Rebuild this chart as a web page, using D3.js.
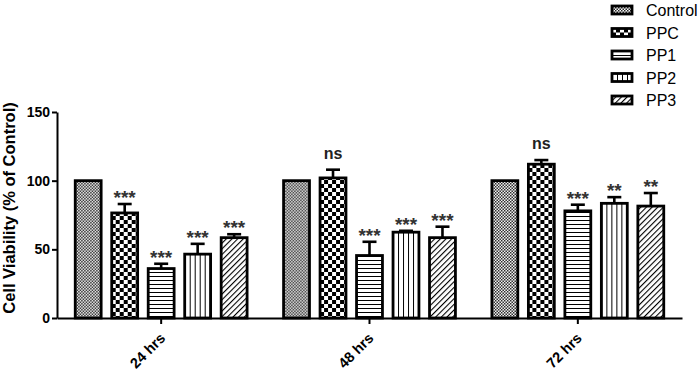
<!DOCTYPE html>
<html>
<head>
<meta charset="utf-8">
<script src="https://cdn.jsdelivr.net/npm/d3@7"></script>
<style>
  body { margin: 0; background: #fff; }
  svg { display: block; font-family: "Liberation Sans", Arial, sans-serif; }
</style>
</head>
<body>
<div id="chart"></div>
<script>
// cell viability bars, grouped by time point

const groups = ["24 hrs", "48 hrs", "72 hrs"];
const series = ["Control", "PPC", "PP1", "PP2", "PP3"];

// mean values per series, one per time point
const controlVals = [100, 100, 100];
const ppcVals = [76.5, 102, 112];
const pp1Vals = [36, 45.5, 78];
const pp2Vals = [46.5, 62.5, 83.5];
const pp3Vals = [58.5, 58.5, 81.5];

// error (upper half only)
const controlErr = [0, 0, 0];
const ppcErr = [6.5, 6, 3];
const pp1Err = [3.5, 10, 4.5];
const pp2Err = [7.5, 1, 4.5];
const pp3Err = [2.5, 8, 9.5];

// significance marks
const controlSig = ["", "", ""];
const ppcSig = ["***", "ns", "ns"];
const pp1Sig = ["***", "***", "***"];
const pp2Sig = ["***", "***", "**"];
const pp3Sig = ["***", "***", "**"];

const yTicks = [0, 50, 100, 150];

const vals = [controlVals, ppcVals, pp1Vals, pp2Vals, pp3Vals];
const errs = [controlErr, ppcErr, pp1Err, pp2Err, pp3Err];
const sigs = [controlSig, ppcSig, pp1Sig, pp2Sig, pp3Sig];

let rows = [];
groups.forEach((g, gi) => {
    series.forEach((s, si) => {
        rows.push({group: g, series: s, value: vals[si][gi], err: errs[si][gi], sig: sigs[si][gi]});
    });
});

const width = 699, height = 374;
const margin = {top: 112, right: 17, bottom: 56, left: 57};

const svg = d3.select("#chart").append("svg")
    .attr("width", width)
    .attr("height", height);

// patterns
const defs = svg.append("defs");

let p = defs.append("pattern").attr("id", "pat-Control")
    .attr("patternUnits", "userSpaceOnUse").attr("width", 3).attr("height", 3);
p.append("rect").attr("width", 3).attr("height", 3).attr("fill", "#fff");
p.append("rect").attr("width", 1.5).attr("height", 1.5).attr("fill", "#222");
p.append("rect").attr("x", 1.5).attr("y", 1.5).attr("width", 1.5).attr("height", 1.5).attr("fill", "#222");

p = defs.append("pattern").attr("id", "pat-PPC")
    .attr("patternUnits", "userSpaceOnUse").attr("width", 8).attr("height", 8);
p.append("rect").attr("width", 8).attr("height", 8).attr("fill", "#fff");
p.append("rect").attr("width", 4).attr("height", 4).attr("fill", "#000");
p.append("rect").attr("x", 4).attr("y", 4).attr("width", 4).attr("height", 4).attr("fill", "#000");

p = defs.append("pattern").attr("id", "pat-PP1")
    .attr("patternUnits", "userSpaceOnUse").attr("width", 4).attr("height", 4);
p.append("rect").attr("width", 4).attr("height", 4).attr("fill", "#fff");
p.append("line").attr("x1", 0).attr("x2", 4).attr("y1", 0.5).attr("y2", 0.5)
    .attr("stroke", "#000").attr("stroke-width", 1);

p = defs.append("pattern").attr("id", "pat-PP2")
    .attr("patternUnits", "userSpaceOnUse").attr("width", 5).attr("height", 5);
p.append("rect").attr("width", 5).attr("height", 5).attr("fill", "#fff");
p.append("line").attr("x1", 0.5).attr("x2", 0.5).attr("y1", 0).attr("y2", 5)
    .attr("stroke", "#000").attr("stroke-width", 1);

p = defs.append("pattern").attr("id", "pat-PP3")
    .attr("patternUnits", "userSpaceOnUse").attr("width", 4).attr("height", 4)
    .attr("patternTransform", "rotate(45)");
p.append("rect").attr("width", 4).attr("height", 4).attr("fill", "#fff");
p.append("line").attr("x1", 0.5).attr("x2", 0.5).attr("y1", 0).attr("y2", 4)
    .attr("stroke", "#000").attr("stroke-width", 1.2);

// scales
const x0 = d3.scaleBand()
    .domain(groups)
    .range([margin.left, width - margin.right])
    .padding(0);

const x1 = d3.scaleBand()
    .domain(series)
    .range([0, x0.bandwidth()])
    .paddingInner(0.29)
    .paddingOuter(0.5);

const y = d3.scaleLinear()
    .domain([0, 150])
    .range([height - margin.bottom, margin.top]);

// bars
const bar = svg.append("g").selectAll("g")
    .data(rows)
    .join("g")
    .attr("transform", d => "translate(" + (x0(d.group) + x1(d.series)) + ",0)");

bar.append("rect")
    .attr("x", 0)
    .attr("y", d => y(d.value))
    .attr("width", x1.bandwidth())
    .attr("height", d => y(0) - y(d.value))
    .attr("fill", d => "url(#pat-" + d.series + ")")
    .attr("stroke", "#000")
    .attr("stroke-width", 2.8);

// error bars
const capW = 14;
bar.filter(d => d.err > 0).append("line")
    .attr("x1", x1.bandwidth() / 2).attr("x2", x1.bandwidth() / 2)
    .attr("y1", d => y(d.value)).attr("y2", d => y(d.value + d.err))
    .attr("stroke", "#000").attr("stroke-width", 2.6);
bar.filter(d => d.err > 0).append("line")
    .attr("x1", x1.bandwidth() / 2 - capW / 2).attr("x2", x1.bandwidth() / 2 + capW / 2)
    .attr("y1", d => y(d.value + d.err)).attr("y2", d => y(d.value + d.err))
    .attr("stroke", "#000").attr("stroke-width", 2.6);

// significance labels
bar.filter(d => d.sig !== "").append("text")
    .attr("x", x1.bandwidth() / 2)
    .attr("y", d => y(d.value + d.err) - (d.sig === "ns" ? 11 : 0))
    .attr("text-anchor", "middle")
    .style("font-size", d => d.sig === "ns" ? "16px" : "19px")
    .style("font-weight", "bold")
    .attr("fill", d => d.sig === "ns" ? "#222" : "#333")
    .text(d => d.sig);

// y axis
const yAxis = svg.append("g")
    .attr("transform", "translate(" + margin.left + ",0)")
    .call(d3.axisLeft(y).tickValues(yTicks).tickSize(5).tickSizeOuter(0).tickPadding(2));
yAxis.select(".domain").attr("stroke-width", 2);
yAxis.selectAll(".tick line").attr("stroke-width", 2);
yAxis.selectAll(".tick text")
    .style("font-size", "14px").style("font-weight", "bold").attr("fill", "#000");

// x axis
const xAxis = svg.append("g")
    .attr("transform", "translate(0," + y(0) + ")")
    .call(d3.axisBottom(x0).tickSize(6).tickSizeOuter(0));
xAxis.select(".domain").attr("stroke-width", 2);
xAxis.selectAll(".tick line").attr("stroke-width", 2);
xAxis.selectAll(".tick text")
    .style("font-size", "14.5px").style("font-weight", "bold").attr("fill", "#000")
    .attr("text-anchor", "end")
    .attr("dy", 0)
    .attr("transform", "translate(5,21) rotate(-45)")
    .attr("y", 0);

// y title
svg.append("text")
    .attr("transform", "translate(14.5,208) rotate(-90)")
    .attr("text-anchor", "middle")
    .style("font-size", "16.5px")
    .style("font-weight", "bold")
    .text("Cell Viability (% of Control)");

// legend
const legend = svg.append("g").selectAll("g")
    .data(series)
    .join("g")
    .attr("transform", (d, i) => "translate(612," + (10 + i * 22.5) + ")");

legend.append("rect")
    .attr("x", 0).attr("y", -4)
    .attr("width", 20).attr("height", 8)
    .attr("fill", d => "url(#pat-" + d + ")")
    .attr("stroke", "#000").attr("stroke-width", 2.8);

legend.append("text")
    .attr("x", 34)
    .attr("y", 6)
    .style("font-size", "16px")
    .text(d => d);
</script>
</body>
</html>
